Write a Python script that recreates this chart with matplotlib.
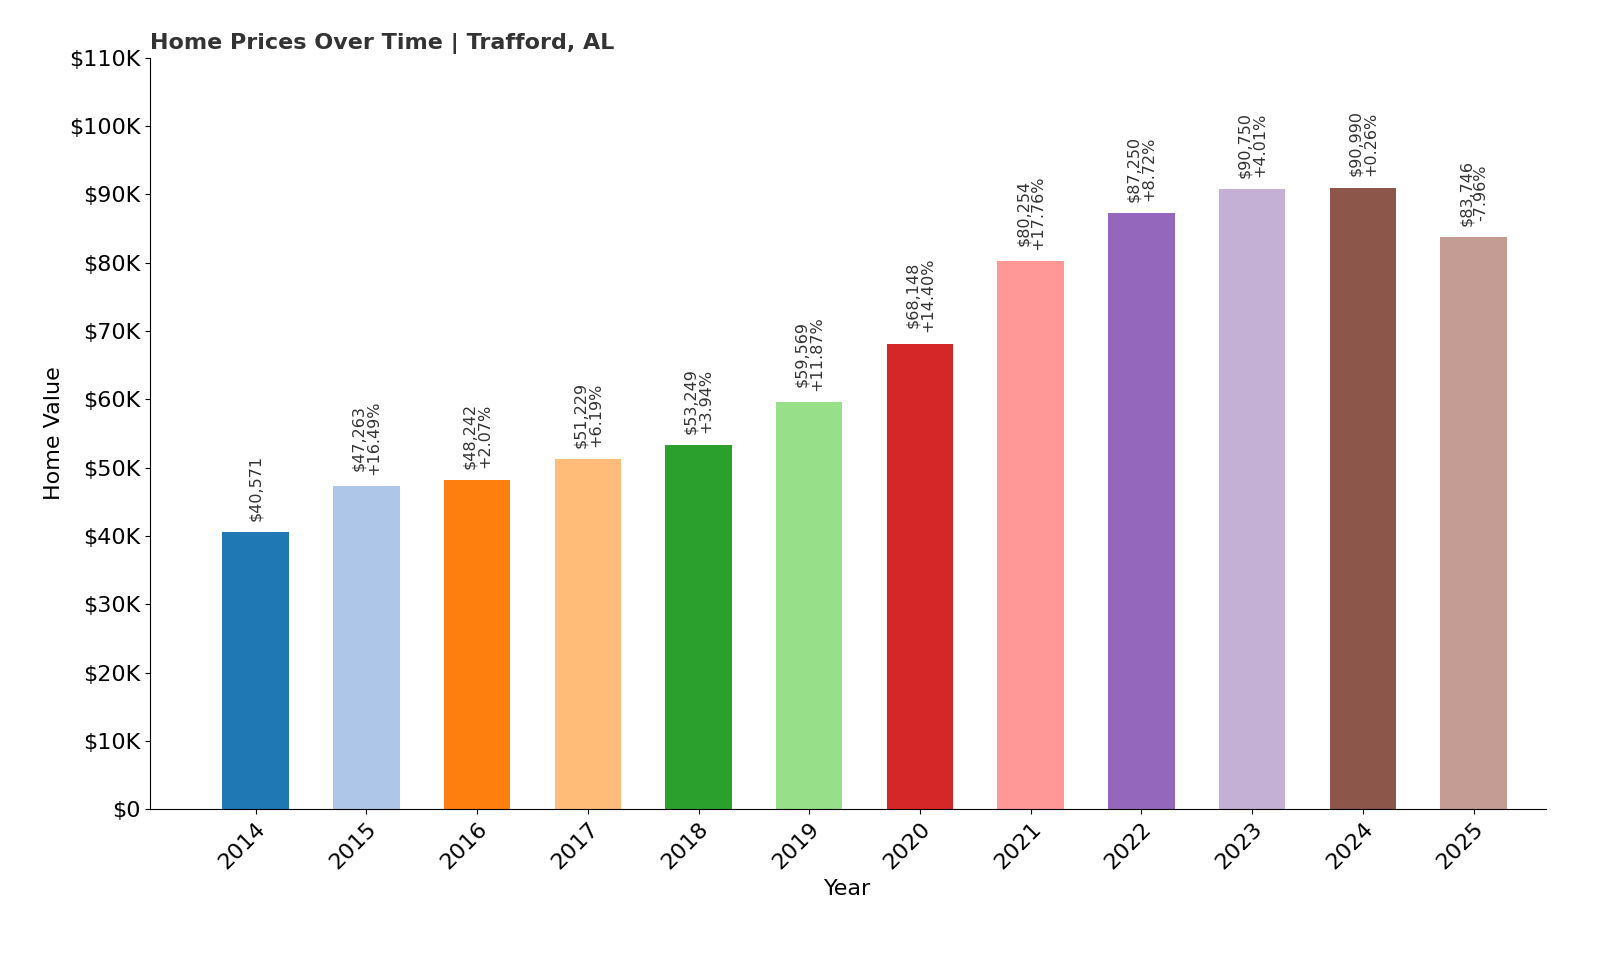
import matplotlib
matplotlib.use("Agg")
import matplotlib.pyplot as plt

years = ["2014","2015","2016","2017","2018","2019","2020","2021","2022","2023","2024","2025"]
values = [40571,47263,48242,51229,53249,59569,68148,80254,87250,90750,90990,83746]
changes = [None,"+16.49%","+2.07%","+6.19%","+3.94%","+11.87%","+14.40%","+17.76%","+8.72%","+4.01%","+0.26%","-7.96%"]
yticks = list(range(0, 110001, 10000))
ytick_labels = ["$0"] + [f"${v//1000}K" for v in yticks[1:]]

colors = plt.get_cmap("tab20").colors

fig = plt.figure(figsize=(16, 9.6), dpi=100)
ax = fig.add_axes([0.094, 0.157, 0.872, 0.783])
x = list(range(len(years)))
ax.bar(x, values, width=0.6, color=[colors[i % 20] for i in x])
for i, v in enumerate(values):
    txt = f"${v:,}" if changes[i] is None else f"${v:,}\n{changes[i]}"
    ax.annotate(txt, (i, v), xytext=(0, 8), textcoords="offset points",
                rotation=90, ha="center", va="bottom", fontsize=11.5, color="#333333",
                linespacing=1.0)
ax.set_xticks(x)
ax.set_xticklabels(years, rotation=45, ha="right", rotation_mode="anchor", fontsize=16)
ax.set_yticks(yticks)
ax.set_yticklabels(ytick_labels, fontsize=16)
ax.set_ylim(0, 110000)
ax.set_xlim(-0.95, len(years) - 0.35)
ax.spines["top"].set_visible(False)
ax.spines["right"].set_visible(False)
ax.set_xlabel("Year", fontsize=16)
ax.set_ylabel("Home Value", fontsize=16)
ax.set_title("Home Prices Over Time | Trafford, AL", loc="left", fontsize=16,
             fontweight="bold", color="#333333")
fig.savefig("out.png", dpi=100)
